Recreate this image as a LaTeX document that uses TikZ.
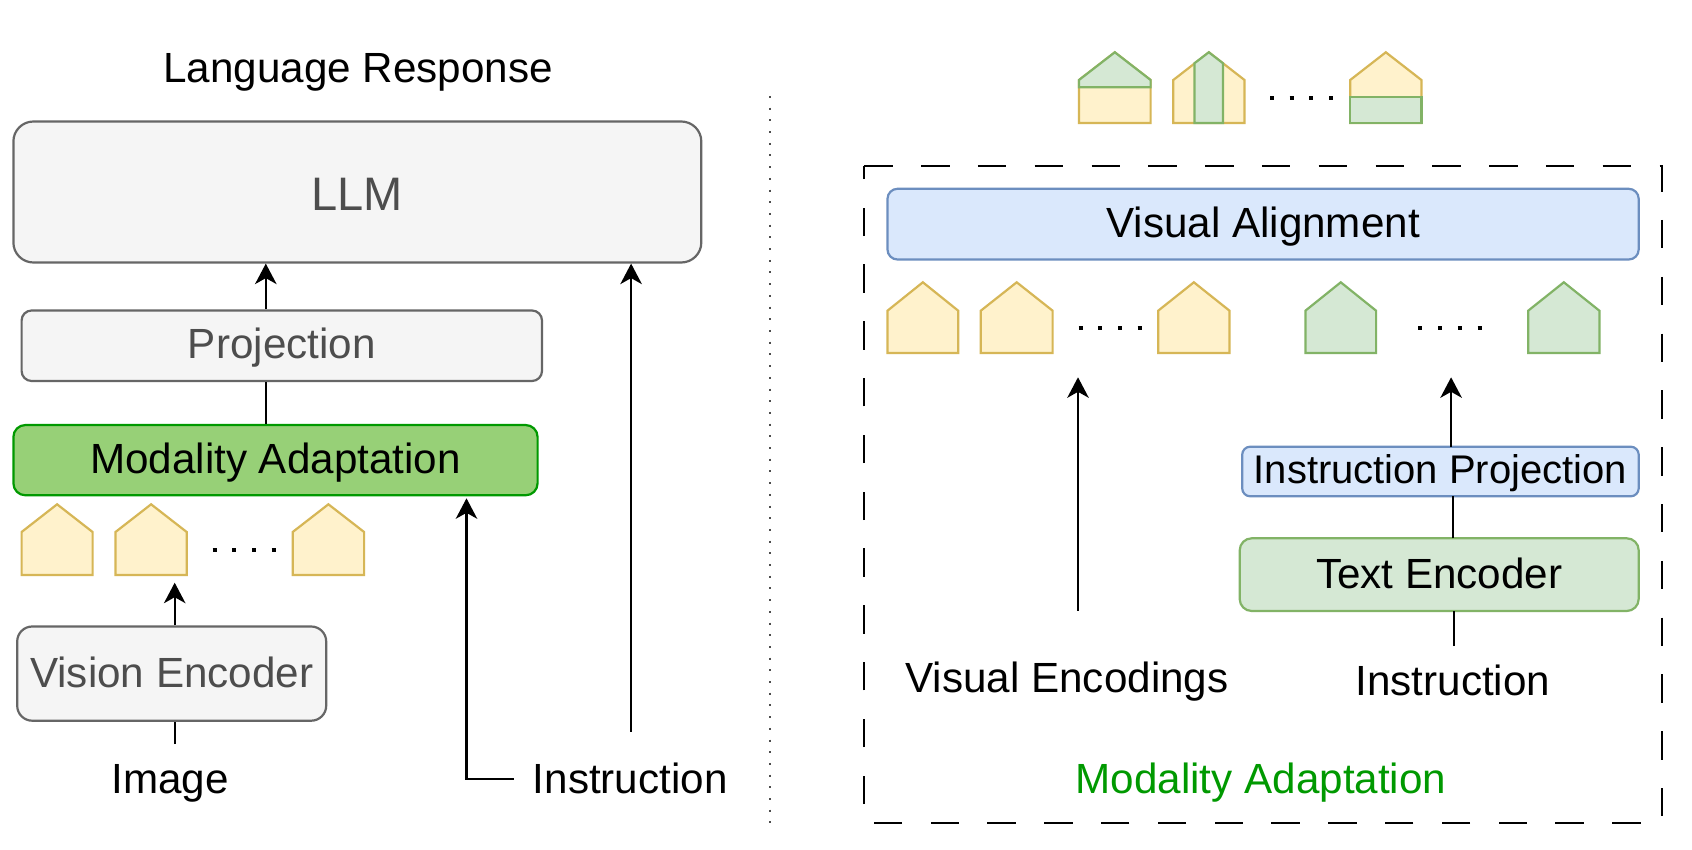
\documentclass[tikz,border=0pt]{standalone}
\usepackage{fontspec}
\setmainfont{Liberation Sans}
\usetikzlibrary{arrows.meta}
\definecolor{yfill}{HTML}{FFF2CC}\definecolor{ydraw}{HTML}{D6B656}
\definecolor{gfill}{HTML}{D5E8D4}\definecolor{gdraw}{HTML}{82B366}
\definecolor{bfill}{HTML}{DAE8FC}\definecolor{bdraw}{HTML}{6C8EBF}
\definecolor{ngray}{HTML}{F5F5F5}\definecolor{dgray}{HTML}{666666}\definecolor{tgray}{HTML}{4D4D4D}
\definecolor{mfill}{HTML}{97D077}\definecolor{mdraw}{HTML}{009900}
\tikzset{
 x=1pt,y=-1pt,
 txt/.style={font=\fontsize{42.2}{50}\selectfont,inner sep=0pt,anchor=base},
 box/.style={draw,line width=2.2pt,inner sep=0pt,font=\fontsize{42.2}{50}\selectfont},
 graybox/.style={box,fill=ngray,draw=dgray,text=tgray},
 bluebox/.style={box,fill=bfill,draw=bdraw},
 greenbox/.style={box,fill=gfill,draw=gdraw},
 modbox/.style={box,fill=mfill,draw=mdraw},
 conn/.style={line width=2.2pt,black},
 arr/.style={conn,-{Stealth[length=20.5pt,width=21.5pt,inset=6pt]}},
 yh/.style={fill=yfill,draw=ydraw,line width=2.2pt,line join=miter},
 gh/.style={fill=gfill,draw=gdraw,line width=2.2pt,line join=miter},
 ell/.style={line width=4pt,dash pattern=on 4pt off 15.7pt,black},
}
% name, style, x1, y1, x2, y2, baseline, text
\newcommand{\mkbox}[8]{%
 \pgfmathsetmacro{\bw}{#5-#3}\pgfmathsetmacro{\bh}{#7-#4}\pgfmathsetmacro{\bd}{#6-#7}%
 \pgfmathsetmacro{\cx}{(#3+#5)/2}\pgfmathsetmacro{\cy}{(#4+#6)/2}%
 \node[#2,minimum width=\bw pt,text height=\bh pt,text depth=\bd pt] (#1) at (\cx,\cy) {#8};}
% style, x1, x2, apex y, shoulder y, bottom y
\newcommand{\house}[6]{%
 \pgfmathsetmacro{\hm}{(#2+#3)/2}%
 \draw[#1] (#2,#6) -- (#2,#5) -- (\hm,#4) -- (#3,#5) -- (#3,#6) -- cycle;}
\begin{document}
\begin{tikzpicture}
\useasboundingbox (0,0) rectangle (1692,850);
\fill[white] (0,0) rectangle (1692,850);
% left column
\node[txt] (resp) at (358,82.7) {Language Response};
\mkbox{llm}{graybox,rounded corners=20pt,font=\fontsize{47}{56}\selectfont}{13.4}{121.5}{701.3}{262.5}{211}{LLM}
\mkbox{proj}{graybox,rounded corners=10pt}{21.6}{310.5}{542}{381}{359}{Projection}
\mkbox{mod}{modbox,rounded corners=12pt}{13.4}{425}{537.6}{495.3}{473.5}{Modality Adaptation}
\mkbox{vis}{graybox,rounded corners=15pt}{17.2}{626.5}{326.2}{720.7}{687.7}{Vision Encoder}
\node[txt] (img) at (170.2,793) {Image};
\node[txt] (instl) at (630.2,793) {Instruction};
\coordinate (xa) at (265.8,0);
\coordinate (xb) at (631.1,0);
\coordinate (xc) at (466.5,0);
\coordinate (xd) at (174.7,0);
\coordinate (ya) at (0,582.7);
\coordinate (yb) at (0,744);
\coordinate (yc) at (0,731.7);
\coordinate (yd) at (0,779);
\coordinate (ye) at (513.7,0);
\coordinate (yf) at (0,498.3);
\draw[conn] (mod.north -| xa) -- (proj.south -| xa);
\draw[arr] (proj.north -| xa) -- (llm.south -| xa);
\draw[arr] (xd |- vis.north) -- (xd |- ya);
\draw[conn] (xd |- yb) -- (xd |- vis.south);
\draw[arr] (xb |- yc) -- (xb |- llm.south);
\draw[arr] (ye |- yd) -- (xc |- yd) -- (xc |- yf);
\house{yh}{21.6}{92.6}{504.3}{532}{575}
\house{yh}{115.5}{186.7}{504.3}{532}{575}
\house{yh}{292.7}{364.1}{504.3}{532}{575}
\draw[ell] (212.6,550) -- (275.8,550);
% separator
\draw[line width=2pt,dash pattern=on 2pt off 9.7pt,black!70] (770,96) -- (770,824);
% output tokens
\house{yh}{1079}{1150.6}{52.3}{80}{123}
\draw[gh] (1079,87.3) -- (1079,80) -- (1114.8,52.3) -- (1150.6,80) -- (1150.6,87.3) -- cycle;
\house{yh}{1173.3}{1244.5}{52.3}{80}{123}
\draw[gh] (1194.4,123) -- (1194.4,63.3) -- (1208.8,52.3) -- (1223,63.3) -- (1223,123) -- cycle;
\house{yh}{1350.2}{1421.4}{52.3}{80}{123}
\draw[gh] (1350.2,96.7) rectangle (1421.4,123);
\draw[ell] (1270,97.7) -- (1333.8,97.7);
% dashed frame
\draw[line width=2.2pt,dash pattern=on 28.4pt off 28.4pt] (864.3,166) -- (1662.3,166) -- (1662.3,823) -- (864.3,823) -- cycle;
\mkbox{align}{bluebox,rounded corners=10pt}{887.5}{188.8}{1638.7}{259.5}{237.7}{Visual Alignment}
\house{yh}{887.5}{958.2}{282.3}{310.7}{353}
\house{yh}{980.8}{1052.6}{282.3}{310.7}{353}
\house{yh}{1158.2}{1229.5}{282.3}{310.7}{353}
\house{gh}{1305.4}{1376.1}{282.3}{310.7}{353}
\house{gh}{1528.2}{1599.4}{282.3}{310.7}{353}
\draw[ell] (1078.6,328) -- (1141.7,328);
\draw[ell] (1418.4,328) -- (1482.1,328);
\mkbox{ip}{bluebox,rounded corners=8pt,font=\fontsize{40}{48}\selectfont}{1242.2}{446.7}{1638.7}{496.3}{483}{Instruction Projection}
\mkbox{te}{greenbox,rounded corners=12pt}{1239.7}{538.3}{1638.7}{611}{588.7}{Text Encoder}
\node[txt] (ve) at (1067,692.5) {Visual Encodings};
\node[txt] (instr) at (1452.8,695) {Instruction};
\node[txt,text=mdraw] (modl) at (1261,793.2) {Modality Adaptation};
\coordinate (va) at (1078,610.7);
\coordinate (vb) at (1078,377.3);
\coordinate (ia) at (1453.8,646);
\coordinate (ib) at (1453.8,611);
\coordinate (ic) at (1452.7,538.3);
\coordinate (id) at (1452.7,496.3);
\coordinate (ie) at (1451.1,446.7);
\coordinate (if) at (1451.1,377.3);
\draw[arr] (va) -- (vb);
\draw[conn] (ia) -- (ib);
\draw[conn] (ic) -- (id);
\draw[arr] (ie) -- (if);
\end{tikzpicture}
\end{document}
